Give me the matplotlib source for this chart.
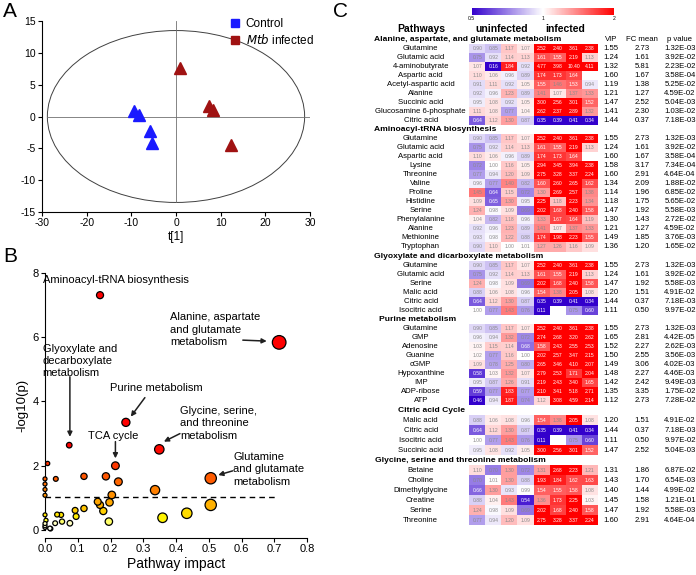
import numpy as np
import matplotlib
matplotlib.use('Agg')
import matplotlib.pyplot as plt
from matplotlib.colors import LinearSegmentedColormap, LogNorm, Normalize
from matplotlib.patches import Ellipse
from matplotlib.lines import Line2D
import matplotlib.cm as cm

plt.rcParams['font.family'] = ['Liberation Sans', 'DejaVu Sans']
plt.rcParams['axes.unicode_minus'] = False

# ---------------- Panel A data (score plot) ----------------
control_t1 = [-9.5, -8.3, -5.8, -5.3]
control_t2 = [0.9, 0.3, -2.2, -4.2]
infected_t1 = [1.0, 7.4, 8.2, 12.3]
infected_t2 = [7.6, 1.6, 1.0, -4.5]

# ---------------- Panel B data (pathway analysis) ----------------
impact = [0.168, 0.715, 0.074, 0.247, 0.349, 0.215, 0.506, 0.008, 0.033, 0.119,
          0.186, 0.224, 0.336, 0.204, 0.0, 0.0, 0.0, 0.0, 0.506, 0.433,
          0.359, 0.195, 0.161, 0.168, 0.178, 0.197, 0.119, 0.092, 0.095, 0.076,
          0.052, 0.049, 0.037, 0.031, 0.015, 0.0, 0.0, 0.0, 0.0, 0.017, 0.003]
neglogp = [7.31, 5.84, 2.64, 3.35, 2.51, 2.00, 1.61, 2.07, 1.59, 1.67,
           1.67, 1.50, 1.24, 1.09, 1.59, 1.43, 1.26, 1.08, 0.78, 0.52,
           0.38, 0.26, 0.88, 0.78, 0.59, 0.86, 0.67, 0.61, 0.42, 0.21,
           0.26, 0.47, 0.48, 0.21, 0.05, 0.47, 0.20, 0.13, 0.08, 0.04, 0.30]
threshold = 1.03

# ---------------- Panel C data (heatmap) ----------------
metabolites = ['Glutamine', 'Glutamic acid', '4-aminobutyrate', 'Aspartic acid',
               'Acetyl-aspartic acid', 'Alanine', 'Succinic acid',
               'Glucosamine 6-phosphate', 'Citric acid', 'Lysine', 'Threonine',
               'Valine', 'Proline', 'Histidine', 'Serine', 'Phenylalanine',
               'Methionine', 'Tryptophan', 'Malic acid', 'Isocitric acid', 'GMP',
               'Adenosine', 'Guanine', 'cGMP', 'Hypoxanthine', 'IMP', 'ADP-ribose',
               'ATP', 'Betaine', 'Choline', 'Dimethylglycine', 'Creatine']
nan = np.nan
fold_values = [
    [0.90, 0.85, 1.17, 1.07, 2.52, 2.40, 3.61, 2.38],
    [0.75, 0.92, 1.14, 1.13, 1.61, 1.55, 2.19, 1.13],
    [1.07, 0.16, 1.84, 0.92, 4.77, 3.98, 10.40, 4.11],
    [1.10, 1.06, 0.96, 0.89, 1.74, 1.73, 1.64, nan],
    [0.91, 1.11, 0.92, 1.05, 1.55, 1.46, 1.53, 0.94],
    [0.92, 0.96, 1.23, 0.89, 1.41, 1.07, 1.37, 1.33],
    [0.95, 1.08, 0.92, 1.05, 3.00, 2.56, 3.01, 1.52],
    [1.11, 1.08, 0.77, 1.04, 2.62, 2.37, 2.89, 1.32],
    [0.64, 1.12, 1.30, 0.87, 0.35, 0.39, 0.41, 0.34],
    [0.72, 1.00, 1.16, 1.05, 2.94, 3.45, 3.94, 2.38],
    [0.77, 0.94, 1.20, 1.09, 2.75, 3.28, 3.37, 2.24],
    [0.96, 0.77, 1.40, 0.82, 1.60, 2.60, 2.65, 1.62],
    [1.45, 0.64, 1.15, 0.72, 1.30, 2.69, 2.57, 1.38],
    [1.09, 0.65, 1.30, 0.95, 2.25, 1.18, 2.23, 1.34],
    [1.24, 0.98, 1.09, 0.69, 2.02, 1.68, 2.40, 1.58],
    [1.04, 0.82, 1.18, 0.96, 1.33, 1.67, 1.64, 1.19],
    [0.93, 0.98, 1.22, 0.88, 1.74, 1.98, 2.23, 1.55],
    [0.90, 1.10, 1.00, 1.01, 1.27, 1.26, 1.16, 1.09],
    [0.88, 1.06, 1.08, 0.96, 1.54, 1.38, 2.05, 1.08],
    [1.00, 0.77, 1.43, 0.76, 0.11, nan, 0.75, 0.60],
    [0.96, 0.94, 1.32, 0.72, 2.74, 2.68, 3.20, 2.62],
    [1.03, 1.15, 1.14, 0.68, 1.58, 2.43, 2.55, 2.53],
    [1.02, 0.77, 1.16, 1.00, 2.02, 2.57, 3.47, 2.15],
    [1.09, 0.78, 1.25, 0.80, 2.65, 3.46, 4.10, 2.07],
    [0.58, 1.03, 1.32, 1.07, 2.79, 2.53, 1.71, 2.04],
    [0.95, 0.87, 1.26, 0.91, 2.19, 2.43, 3.40, 1.65],
    [0.59, 0.77, 1.83, 0.77, 2.10, 3.41, 5.18, 2.71],
    [0.46, 0.94, 1.87, 0.74, 1.12, 3.08, 4.59, 2.14],
    [1.10, 0.70, 1.30, 0.72, 1.31, 2.68, 2.23, 1.21],
    [0.70, 1.01, 1.30, 0.88, 1.93, 1.84, 1.62, 1.63],
    [0.66, 1.30, 0.93, 0.99, 1.54, 1.55, 1.58, 1.08],
    [0.88, 1.04, 1.43, 0.54, 1.36, 1.73, 2.25, 1.03],
]
vip = [1.55, 1.24, 1.32, 1.60, 1.19, 1.21, 1.47, 1.41, 1.44, 1.58, 1.60, 1.34, 1.14,
       1.18, 1.47, 1.30, 1.49, 1.36, 1.20, 1.11, 1.65, 1.52, 1.50, 1.49, 1.48, 1.42,
       1.35, 1.12, 1.31, 1.43, 1.40, 1.45]
fc_mean = [2.73, 1.61, 5.81, 1.67, 1.38, 1.27, 2.52, 2.30, 0.37, 3.17, 2.91, 2.09, 1.96,
           1.75, 1.92, 1.43, 1.85, 1.20, 1.51, 0.50, 2.81, 2.27, 2.55, 3.06, 2.27, 2.42,
           3.35, 2.73, 1.86, 1.70, 1.44, 1.58]
p_value = [1.32e-3, 3.92e-2, 2.23e-2, 3.58e-4, 5.25e-2, 4.59e-2, 5.04e-3, 1.03e-2,
           7.18e-3, 7.34e-4, 4.64e-4, 1.88e-2, 6.85e-2, 5.65e-2, 5.58e-3, 2.72e-2,
           3.76e-3, 1.65e-2, 4.91e-2, 9.97e-2, 4.42e-5, 2.62e-3, 3.56e-3, 4.02e-3,
           4.46e-3, 9.49e-3, 1.75e-2, 7.28e-2, 6.87e-2, 6.54e-3, 4.99e-2, 1.21e-1]
pathway_titles = ['Alanine, aspartate, and glutamate metabolism',
                  'Aminoacyl-tRNA biosynthesis',
                  'Glyoxylate and dicarboxylate metabolism',
                  'Purine metabolism',
                  'Citric acid Cycle',
                  'Glycine, serine and threonine metabolism']
pathway_members = [
    ['Glutamine', 'Glutamic acid', '4-aminobutyrate', 'Aspartic acid',
     'Acetyl-aspartic acid', 'Alanine', 'Succinic acid', 'Glucosamine 6-phosphate',
     'Citric acid'],
    ['Glutamine', 'Glutamic acid', 'Aspartic acid', 'Lysine', 'Threonine', 'Valine',
     'Proline', 'Histidine', 'Serine', 'Phenylalanine', 'Alanine', 'Methionine',
     'Tryptophan'],
    ['Glutamine', 'Glutamic acid', 'Serine', 'Malic acid', 'Citric acid',
     'Isocitric acid'],
    ['Glutamine', 'GMP', 'Adenosine', 'Guanine', 'cGMP', 'Hypoxanthine', 'IMP',
     'ADP-ribose', 'ATP'],
    ['Malic acid', 'Citric acid', 'Isocitric acid', 'Succinic acid'],
    ['Betaine', 'Choline', 'Dimethylglycine', 'Creatine', 'Serine', 'Threonine'],
]

# ---------------- figure ----------------
W, H = 696, 575
fig = plt.figure(figsize=(W / 100, H / 100), dpi=100)


def fx(px):
    return px / W


def fy(py):
    return 1 - py / H


# ======== Panel A ========
axA = fig.add_axes([fx(42), fy(212), fx(268), 191 / H])
axA.set_xlim(-30, 30)
axA.set_ylim(-15, 15)
for s in ['top', 'right']:
    axA.spines[s].set_visible(False)
axA.set_xticks([-30, -20, -10, 0, 10, 20, 30])
axA.set_yticks([-15, -10, -5, 0, 5, 10, 15])
axA.tick_params(labelsize=7.5, length=3, width=0.8, pad=1.5)
axA.add_patch(Ellipse((0, 0), 2 * 28.8, 2 * 13.5, fill=False, ec='#404040', lw=0.7))
axA.plot([0, 0], [-13.5, 15], color='#707070', lw=0.6)
axA.plot([-28.8, 30], [0, 0], color='#707070', lw=0.6)
c_blue = '#1a1aff'
c_red = '#a01212'
axA.plot(control_t1, control_t2, '^', color=c_blue, ms=8, mec=c_blue, ls='none', clip_on=False)
axA.plot(infected_t1, infected_t2, '^', color=c_red, ms=8, mec=c_red, ls='none', clip_on=False)
axA.set_xlabel('t[1]', fontsize=8.5, labelpad=2)
handles = [Line2D([], [], marker='s', color=c_blue, ls='none', ms=5.5),
           Line2D([], [], marker='s', color=c_red, ls='none', ms=5.5)]
fig.legend(handles, ['Control', r'$\it{Mtb}$ infected'], loc='upper left',
           bbox_to_anchor=(fx(222), fy(10)), frameon=False, fontsize=8.5,
           handlelength=0.8, handletextpad=0.5, labelspacing=0.25, borderpad=0.2)

# ======== Panel B ========
axB = fig.add_axes([fx(45), fy(538), fx(262), (538 - 273) / H])
axB.set_xlim(0, 0.8)
axB.set_ylim(-0.25, 8)
for s in ['top', 'right']:
    axB.spines[s].set_visible(False)
axB.spines['left'].set_bounds(0, 8)
axB.spines['bottom'].set_bounds(0, 0.8)
axB.set_xticks(np.arange(0, 0.81, 0.1))
axB.set_xticklabels([f'{v:.1f}' for v in np.arange(0, 0.81, 0.1)])
axB.set_yticks([0, 2, 4, 6, 8])
axB.tick_params(labelsize=8, length=3, width=0.8, pad=1.5)
axB.set_xlabel('Pathway impact', fontsize=10, labelpad=2)
axB.set_ylabel('-log10(p)', fontsize=9.5, labelpad=3)
axB.plot([0, 0.71], [threshold, threshold], ls=(0, (4, 3)), color='black', lw=1.0)

heat = LinearSegmentedColormap.from_list(
    'heat', [(0, '#ffffff'), (0.08, '#ffffc0'), (0.12, '#ffff00'), (0.3, '#ffb000'),
             (0.6, '#ff6000'), (1, '#ff0000')])
hnorm = Normalize(0, 2.6, clip=True)
imp = np.array(impact)
radius_px = 2.0 + 6.3 * imp ** 0.8
sizes = (2 * radius_px / 1.389) ** 2
order = np.argsort(sizes)[::-1]
axB.scatter(imp[order], np.array(neglogp)[order], s=sizes[order],
            c=np.array(neglogp)[order], cmap=heat, norm=hnorm,
            edgecolors='black', linewidths=0.9, clip_on=False, zorder=3)

ann_kw = dict(fontsize=8, linespacing=1.3, va='center', ha='left')
axB.text(-0.006, 7.78, 'Aminoacyl-tRNA biosynthesis', **ann_kw)
axB.text(0.382, 6.24, 'Alanine, aspartate\nand glutamate\nmetabolism', **ann_kw)
axB.text(-0.007, 5.26, 'Glyoxylate and\ndecarboxylate\nmetabolism', **ann_kw)
axB.text(0.198, 4.41, 'Purine metabolism', **ann_kw)
axB.text(0.132, 2.92, 'TCA cycle', **ann_kw)
axB.text(0.412, 3.32, 'Glycine, serine,\nand threonine\nmetabolism', **ann_kw)
axB.text(0.575, 1.89, 'Glutamine\nand glutamate\nmetabolism', **ann_kw)
arrow_kw = dict(arrowstyle='-|>', color='#202020', lw=1.1, mutation_scale=7,
                shrinkA=0, shrinkB=0)
arrows = [((0.604, 5.91), (0.677, 5.88)),
          ((0.076, 4.77), (0.076, 2.90)),
          ((0.305, 4.12), (0.262, 3.53)),
          ((0.215, 2.75), (0.215, 2.23)),
          ((0.412, 3.00), (0.363, 2.75)),
          ((0.573, 1.84), (0.529, 1.71))]
for tail, head in arrows:
    axB.annotate('', xy=head, xytext=tail, arrowprops=arrow_kw, zorder=4)

# ======== Panel C ========
cell_left, cell_w = 469.3, 128.4
col_px = cell_w / 8
axC = fig.add_axes([fx(cell_left), 0, fx(cell_w), 1])
axC.set_xlim(0, 8)
axC.set_ylim(H, 0)
axC.axis('off')


def cx(px):
    return (px - cell_left) / col_px


hm_cmap = LinearSegmentedColormap.from_list('bwr2', ['#3300cc', '#ffffff', '#ff0000'])
hm_cmap.set_bad('white')
hm_norm = LogNorm(0.5, 2, clip=True)

header_x = [374.3, 374.3, 374.3, 379.0, 398.3, 375.0]
name_x = cx(420.7)
vip_x = cx(611.0)
fc_x = cx(642.3)
p_x = cx(664.3)
txt_fs = 5.6

y = 39.3
for si, (title, members) in enumerate(zip(pathway_titles, pathway_members)):
    slot = 9.03 if si < 4 else 10.0
    if si > 0:
        y += slot
    axC.text(cx(header_x[si]), y, title, fontsize=6.1, fontweight='bold',
             ha='left', va='center', clip_on=False)
    if si == 0:
        axC.text(cx(611.3), y, 'VIP', fontsize=txt_fs, ha='center', va='center', clip_on=False)
        axC.text(cx(642.3), y, 'FC mean', fontsize=txt_fs, ha='center', va='center', clip_on=False)
        axC.text(cx(666.7), y, 'p value', fontsize=txt_fs, ha='left', va='center', clip_on=False)
    ys = []
    for name in members:
        y += slot
        ys.append(y)
    ys = np.array(ys)
    idx = [metabolites.index(n) for n in members]
    data = np.array([fold_values[i] for i in idx], dtype=float)
    edges_y = np.concatenate([ys - slot / 2, [ys[-1] + slot / 2]])
    axC.pcolormesh(np.arange(9), edges_y, np.ma.masked_invalid(data),
                   cmap=hm_cmap, norm=hm_norm, shading='flat')
    for r, (i, yy) in enumerate(zip(idx, ys)):
        axC.text(name_x, yy, metabolites[i], fontsize=txt_fs, ha='center', va='center', clip_on=False)
        axC.text(vip_x, yy, f'{vip[i]:.2f}', fontsize=txt_fs, ha='center', va='center', clip_on=False)
        axC.text(fc_x, yy, f'{fc_mean[i]:.2f}', fontsize=txt_fs, ha='center', va='center', clip_on=False)
        axC.text(p_x, yy, f'{p_value[i]:.2E}', fontsize=txt_fs, ha='left', va='center', clip_on=False)
        for c in range(8):
            v = data[r, c]
            if np.isnan(v):
                continue
            col = 'white' if abs(np.log2(v)) > 0.55 else '#8a8a8a'
            axC.text(c + 0.5, yy, f'{v:.2f}', fontsize=3.6, ha='center', va='center',
                     color=col, clip_on=False)

axC.text(cx(421), 29.3, 'Pathways', fontsize=7.5, fontweight='bold', ha='center', va='center')
axC.text(2, 29.3, 'uninfected', fontsize=7.5, fontweight='bold', ha='center', va='center')
axC.text(6, 29.3, 'infected', fontsize=7.5, fontweight='bold', ha='center', va='center')

cax = fig.add_axes([fx(471.7), fy(15), fx(142.6), 6.7 / H])
cb = fig.colorbar(cm.ScalarMappable(norm=hm_norm, cmap=hm_cmap), cax=cax, orientation='horizontal')
cb.outline.set_visible(False)
cb.set_ticks([0.5, 1, 2])
cb.ax.xaxis.set_minor_locator(matplotlib.ticker.NullLocator())
cb.set_ticklabels(['0.5', '1', '2'])
cb.ax.tick_params(labelsize=3.6, length=0, pad=1)

# Panel letters
fig.text(fx(3), fy(2), 'A', fontsize=15, va='top', ha='left')
fig.text(fx(3), fy(247), 'B', fontsize=15, va='top', ha='left')
fig.text(fx(333), fy(2), 'C', fontsize=15, va='top', ha='left')

fig.savefig('out.png', dpi=100)
